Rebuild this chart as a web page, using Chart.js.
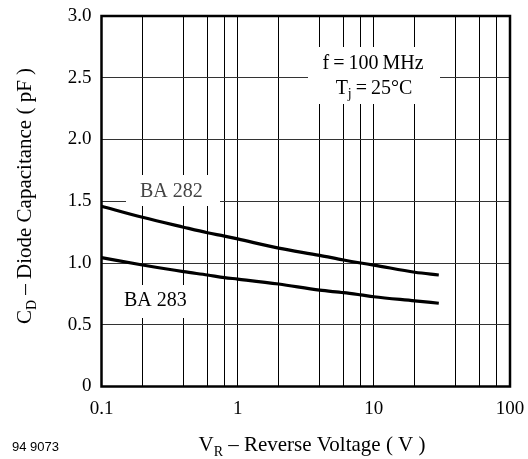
<!DOCTYPE html>
<html>
<head>
<meta charset="utf-8">
<script src="https://cdn.jsdelivr.net/npm/chart.js@4/dist/chart.umd.min.js"></script>
<style>
  html, body { margin: 0; padding: 0; background: #fff; }
  #wrap { width: 528px; height: 459px; }
</style>
</head>
<body>
<div id="wrap"><canvas id="myChart" width="528" height="459"></canvas></div>
<script>
// reverse voltage (V)
const voltage = [0.1, 0.2, 0.4, 0.6, 0.8, 1, 2, 4, 6, 8, 10, 20, 30];
// diode capacitance (pF)
const ba282 = [1.46, 1.37, 1.29, 1.245, 1.218, 1.195, 1.12, 1.062, 1.024, 1.0, 0.983, 0.925, 0.903];
const ba283 = [1.043, 0.984, 0.93, 0.903, 0.882, 0.87, 0.83, 0.78, 0.76, 0.742, 0.727, 0.694, 0.674];

const xGrid = [0.1, 0.2, 0.4, 0.6, 0.8, 1, 2, 4, 6, 8, 10, 20, 40, 60, 80, 100];
const xTickValues = [0.1, 1, 10, 100];
const xTickLabels = ['0.1', '1', '10', '100'];
const yTickLabels = ['0', '0.5', '1.0', '1.5', '2.0', '2.5', '3.0'];

const serif = '"Liberation Serif", "Times New Roman", serif';

function pts(ys) {
    return voltage.map((v, i) => ({ x: v, y: ys[i] }));
}

// draws text with a subscript part, returns end x
function subText(c, parts, x, y, size) {
    parts.forEach(p => {
        c.font = (p.sub ? Math.round(size * 0.68) : size) + 'px ' + serif;
        c.fillText(p.t, x, p.sub ? y + size * 0.22 : y);
        x += c.measureText(p.t).width;
    });
    return x;
}
function subWidth(c, parts, size) {
    let w = 0;
    parts.forEach(p => {
        c.font = (p.sub ? Math.round(size * 0.68) : size) + 'px ' + serif;
        w += c.measureText(p.t).width;
    });
    return w;
}

const textPlugin = {
    id: 'texts',
    beforeDatasetsDraw(chart) {
        const c = chart.ctx;
        c.save();
        c.fillStyle = '#fff';
        c.fillRect(308, 47, 132, 57);
        c.fillRect(126, 175, 94, 31);
        c.fillRect(118, 285, 77, 33);

        c.fillStyle = '#000';
        c.textBaseline = 'alphabetic';
        c.textAlign = 'left';
        const f1 = [{ t: 'f\u2009=\u2009100\u2009MHz' }];
        subText(c, f1, 373 - subWidth(c, f1, 20) / 2, 69, 20);
        const f2 = [{ t: 'T' }, { t: 'j', sub: true }, { t: '\u2009=\u200925\u00b0C' }];
        subText(c, f2, 374 - subWidth(c, f2, 20) / 2, 94, 20);

        c.font = '20px ' + serif;
        c.fillStyle = '#444';
        c.fillText('BA 282', 140, 197);
        c.fillStyle = '#000';
        c.fillText('BA 283', 124, 306);
        c.restore();
    },
    afterDraw(chart) {
        const c = chart.ctx;
        const a = chart.chartArea;
        c.save();
        c.strokeStyle = '#000';
        c.lineWidth = 2.5;
        c.strokeRect(a.left, a.top, a.right - a.left, a.bottom - a.top);

        c.fillStyle = '#000';
        c.textBaseline = 'alphabetic';
        c.textAlign = 'left';
        // x title
        const xt = [{ t: 'V' }, { t: 'R', sub: true }, { t: ' \u2013 Reverse Voltage ( V )' }];
        subText(c, xt, 312 - subWidth(c, xt, 21) / 2, 451, 21);

        // figure number
        c.font = '13px "Liberation Sans", Arial, sans-serif';
        c.fillText('94 9073', 12, 451);

        // y title, rotated
        c.translate(31, 196);
        c.rotate(-Math.PI / 2);
        const yt = [{ t: 'C' }, { t: 'D', sub: true }, { t: ' \u2013 Diode Capacitance ( pF )' }];
        subText(c, yt, -subWidth(c, yt, 21) / 2, 0, 21);
        c.restore();
    }
};

const ctx = document.getElementById('myChart').getContext('2d');
const myChart = new Chart(ctx, {
    type: 'line',
    data: {
        datasets: [
            { label: 'BA 282', data: pts(ba282), borderColor: '#000', borderWidth: 3.2, pointRadius: 0, cubicInterpolationMode: 'monotone', fill: false },
            { label: 'BA 283', data: pts(ba283), borderColor: '#000', borderWidth: 3.2, pointRadius: 0, cubicInterpolationMode: 'monotone', fill: false }
        ]
    },
    options: {
        responsive: false,
        animation: false,
        devicePixelRatio: 1,
        layout: { padding: { top: 16, right: 18, left: 0, bottom: 0 } },
        plugins: { legend: { display: false }, tooltip: { enabled: false } },
        scales: {
            x: {
                type: 'logarithmic',
                min: 0.1,
                max: 100,
                afterBuildTicks(scale) {
                    scale.ticks = xGrid.map(v => ({ value: v }));
                },
                afterFit(scale) {
                    scale.height = 72.5;
                    scale.paddingLeft = 0;
                    scale.paddingRight = 0;
                },
                grid: { color: '#000', lineWidth: 1, drawTicks: false },
                border: { display: false },
                ticks: {
                    autoSkip: false,
                    maxRotation: 0,
                    padding: 11,
                    color: '#000',
                    font: { family: serif, size: 19 },
                    callback(value) {
                        const i = xTickValues.findIndex(t => Math.abs(t - value) < 1e-9);
                        return i >= 0 ? xTickLabels[i] : '';
                    }
                }
            },
            y: {
                min: 0,
                max: 3,
                afterFit(scale) {
                    scale.width = 101.5;
                    scale.paddingTop = 0;
                    scale.paddingBottom = 0;
                },
                grid: { color: '#333', lineWidth: 1, drawTicks: false },
                border: { display: false },
                ticks: {
                    stepSize: 0.5,
                    padding: 10,
                    color: '#000',
                    font: { family: serif, size: 19 },
                    callback(value) {
                        return yTickLabels[Math.round(value / 0.5)];
                    }
                }
            }
        }
    },
    plugins: [textPlugin]
});
</script>
</body>
</html>
